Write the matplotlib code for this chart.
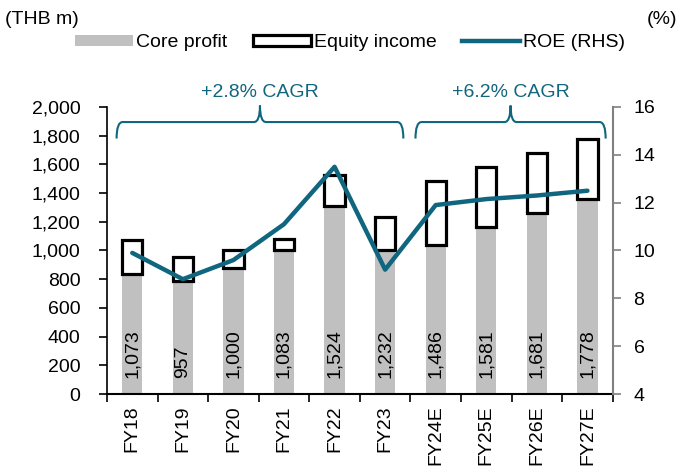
import numpy as np
import matplotlib.pyplot as plt
from matplotlib.patches import Patch, PathPatch
from matplotlib.lines import Line2D
from matplotlib.path import Path

plt.rcParams.update({
    "font.family": ["Liberation Sans", "DejaVu Sans"],
    "font.size": 14,
})

# data
years = ['FY18', 'FY19', 'FY20', 'FY21', 'FY22', 'FY23', 'FY24E', 'FY25E', 'FY26E', 'FY27E']
core_profit = [837, 790, 876, 1000, 1308, 1000, 1040, 1163, 1264, 1357]
total_profit = [1073, 957, 1000, 1083, 1524, 1232, 1486, 1581, 1681, 1778]
roe = [9.9, 8.8, 9.6, 11.1, 13.5, 9.2, 11.9, 12.15, 12.3, 12.5]
cagr_labels = ['+2.8% CAGR', '+6.2% CAGR']

TEAL = '#10667F'
GREY = '#C0C0C0'


def draw_brace(ax, x0, x1, y_top, y_end, y_tip, color):
    xc = (x0 + x1) / 2
    dx = 0.12
    verts = [
        (x0, y_end), (x0, y_top), (x0 + dx, y_top),
        (xc - dx, y_top),
        (xc, y_top), (xc, y_tip),
        (xc, y_top), (xc + dx, y_top),
        (x1 - dx, y_top),
        (x1, y_top), (x1, y_end),
    ]
    codes = [Path.MOVETO, Path.CURVE3, Path.CURVE3, Path.LINETO,
             Path.CURVE3, Path.CURVE3, Path.CURVE3, Path.CURVE3,
             Path.LINETO, Path.CURVE3, Path.CURVE3]
    ax.add_patch(PathPatch(Path(verts, codes), fill=False, edgecolor=color,
                           lw=1.5, clip_on=False))
    return xc


def main():
    core = np.array(core_profit)
    total = np.array(total_profit)
    equity = total - core
    x = np.arange(len(years))

    fig = plt.figure(figsize=(6.84, 4.67), dpi=100)
    ax = fig.add_axes([0.1564, 0.1563, 0.7394, 0.6146])
    ax2 = ax.twinx()

    ax.bar(x, core, width=0.4, color=GREY, zorder=2)
    ax.bar(x, equity, bottom=core, width=0.4, color='white', edgecolor='black',
           linewidth=2.3, zorder=3)
    for xi, v in zip(x, total):
        ax.text(xi, 110, f'{v:,}', rotation=90, ha='center', va='bottom', zorder=4)

    ax2.plot(x, roe, color=TEAL, lw=3.2, solid_capstyle='round', zorder=5)
    ax.set_zorder(ax2.get_zorder() - 1)
    ax.patch.set_visible(False)

    ax.set_xlim(-0.5, len(years) - 0.5)
    ax.set_ylim(0, 2000)
    ax.set_yticks(np.arange(0, 2001, 200))
    ax.yaxis.set_major_formatter(plt.FuncFormatter(lambda v, p: f'{int(v):,}'))
    ax2.set_ylim(4, 16)
    ax2.set_yticks(np.arange(4, 17, 2))

    ax.set_xticks(x)
    ax.set_xticklabels(years, rotation=90)
    ax.set_xticks(np.arange(-0.5, len(years)), minor=True)
    ax.tick_params(axis='x', which='major', length=0, pad=8)
    ax.tick_params(axis='x', which='minor', length=6, width=1.2, direction='out')
    ax.tick_params(axis='y', length=6, width=1.2, direction='out', pad=13)
    ax2.tick_params(axis='y', length=6, width=1.2, direction='out', color='#808080', pad=9)

    for a in (ax, ax2):
        a.spines['top'].set_visible(False)
    ax.spines['right'].set_visible(False)
    ax2.spines['left'].set_visible(False)
    ax2.spines['bottom'].set_visible(False)
    ax2.spines['right'].set_color('#808080')
    ax2.spines['right'].set_linewidth(1.5)
    ax.spines['left'].set_linewidth(1.2)
    ax.spines['bottom'].set_linewidth(1.5)

    # CAGR braces
    spans = [(-0.31, 5.36), (5.6, 9.36)]
    for (x0, x1), lab in zip(spans, cagr_labels):
        xc = draw_brace(ax, x0, x1, 1895, 1780, 2010, TEAL)
        ax.text(xc, 2100, lab, color=TEAL, ha='center', va='center', clip_on=False)

    handles = [Patch(facecolor=GREY, edgecolor='none'),
               Patch(facecolor='white', edgecolor='black', linewidth=2.3),
               Line2D([0], [0], color=TEAL, lw=3.2)]
    fig.legend(handles, ['Core profit', 'Equity income', 'ROE (RHS)'],
               loc='center', bbox_to_anchor=(0.512, 0.908), ncol=3, frameon=False,
               handlelength=3.0, handletextpad=0.15, columnspacing=1.3,
               handleheight=0.5)

    fig.text(0.008, 0.958, '(THB m)', ha='left', va='center')
    fig.text(0.99, 0.958, '(%)', ha='right', va='center')

    fig.savefig('out.png', dpi=100)


if __name__ == '__main__':
    main()
